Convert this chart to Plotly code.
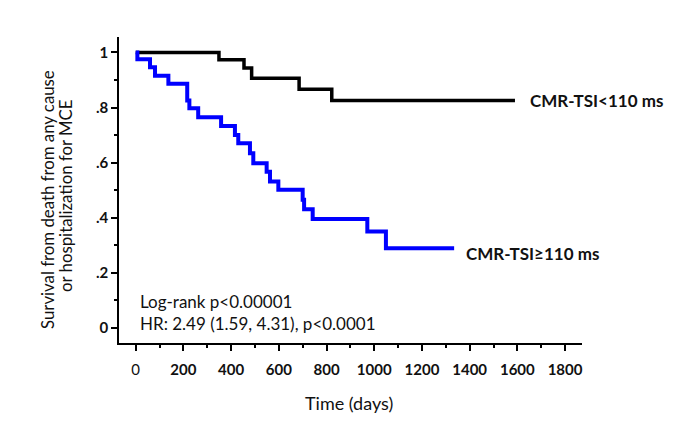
import plotly.graph_objects as go

# Kaplan-Meier step data (days, survival)
low_days = [0, 349, 454, 486, 685, 822, 1590]
low_surv = [1.0, 0.973, 0.943, 0.906, 0.866, 0.825, 0.825]

high_days = [0, 7, 60, 81, 137, 216, 225, 262, 358, 416, 430, 479, 493, 549, 563,
             598, 700, 706, 742, 971, 1049, 1335]
high_surv = [1.0, 0.975, 0.946, 0.915, 0.886, 0.825, 0.797, 0.765, 0.733, 0.700, 0.670,
             0.634, 0.598, 0.567, 0.531, 0.501, 0.465, 0.431, 0.395, 0.350, 0.289, 0.289]

x_ticks = [0, 200, 400, 600, 800, 1000, 1200, 1400, 1600, 1800]
x_ticktext = ["0", "<b>200</b>", "<b>400</b>", "<b>600</b>", "<b>800</b>", "<b>1000</b>",
              "<b>1200</b>", "<b>1400</b>", "<b>1600</b>", "<b>1800</b>"]
y_ticks = [0, 0.2, 0.4, 0.6, 0.8, 1.0]
y_ticktext = ["<b>0</b>", "<b>.2</b>", "<b>.4</b>", "<b>.6</b>", "<b>.8</b>", "<b>1</b>"]

label_low = "CMR-TSI<110 ms"
label_high = "CMR-TSI≥110 ms"
stat_lines = ["Log-rank p<0.00001", "HR: 2.49 (1.59, 4.31), p<0.0001"]
x_title = "Time (days)"
y_title_lines = ["Survival from death from any cause", "or hospitalization for MCE"]

FONT = "Lato"
TXT = "#111111"

# page offset of the plot (body margin of 8px in the rendered page)
OFF = 8
PL, PR, PT, PB = 119, 582, 37, 343  # target plot box in window pixels
PW, PH = PR - PL, PB - PT

fig = go.Figure()
fig.add_trace(go.Scatter(x=low_days, y=low_surv, mode="lines", line_shape="hv",
                         line=dict(color="#000000", width=3.5), showlegend=False))
fig.add_trace(go.Scatter(x=high_days, y=high_surv, mode="lines", line_shape="hv",
                         line=dict(color="#0000ff", width=4), showlegend=False))

fig.update_layout(
    width=685, height=445,
    margin=dict(l=PL - OFF, r=685 - PW - (PL - OFF), t=PT - OFF, b=445 - PH - (PT - OFF)),
    plot_bgcolor="white", paper_bgcolor="white",
    font=dict(family=FONT, color=TXT),
    showlegend=False,
)
fig.update_xaxes(range=[-70, 1871], showline=True, linecolor="black", linewidth=1.5,
                 showgrid=False, zeroline=False, ticks="outside", ticklen=6, tickwidth=1.5,
                 tickcolor="black", tickvals=x_ticks, ticktext=x_ticktext,
                 tickfont=dict(size=15, family=FONT, color=TXT),
                 ticklabelstandoff=6,
                 minor=dict(ticks="outside", ticklen=3, tickwidth=1.5, tickcolor="black",
                            dtick=100, tick0=0, showgrid=False))
fig.update_yaxes(range=[-0.055, 1.056], showline=True, linecolor="black", linewidth=1.5,
                 showgrid=False, zeroline=False, ticks="outside", ticklen=6, tickwidth=1.5,
                 tickcolor="black", tickvals=y_ticks, ticktext=y_ticktext,
                 tickfont=dict(size=15, family=FONT, color=TXT),
                 minor=dict(ticks="outside", ticklen=3, tickwidth=1.5, tickcolor="black",
                            dtick=0.1, tick0=0, showgrid=False))

fig.add_annotation(x=1645, y=0.825, xref="x", yref="y", text="<b>" + label_low + "</b>",
                   showarrow=False, xanchor="left", yanchor="middle",
                   font=dict(size=17, family=FONT, color=TXT))
fig.add_annotation(x=1377, y=0.269, xref="x", yref="y", text="<b>" + label_high + "</b>",
                   showarrow=False, xanchor="left", yanchor="middle",
                   font=dict(size=17, family=FONT, color=TXT))
fig.add_annotation(x=10, y=0.095, xref="x", yref="y", text=stat_lines[0],
                   showarrow=False, xanchor="left", yanchor="middle",
                   font=dict(size=17, family=FONT, color=TXT))
fig.add_annotation(x=10, y=0.017, xref="x", yref="y", text=stat_lines[1],
                   showarrow=False, xanchor="left", yanchor="middle",
                   font=dict(size=17, family=FONT, color=TXT))


def px_x(x):
    return (x - PL) / PW


def px_y(y):
    return (PB - y) / PH


fig.add_annotation(x=px_x(349), y=px_y(403), xref="paper", yref="paper", text=x_title,
                   showarrow=False, xanchor="center", yanchor="middle",
                   font=dict(size=18, family=FONT, color=TXT))
fig.add_annotation(x=px_x(47), y=px_y(200), xref="paper", yref="paper",
                   text=y_title_lines[0], showarrow=False, xanchor="center", yanchor="middle",
                   textangle=-90, font=dict(size=16.8, family=FONT, color=TXT))
fig.add_annotation(x=px_x(66), y=px_y(196), xref="paper", yref="paper",
                   text=y_title_lines[1], showarrow=False, xanchor="center", yanchor="middle",
                   textangle=-90, font=dict(size=16.8, family=FONT, color=TXT))

fig.write_html("out.html")
